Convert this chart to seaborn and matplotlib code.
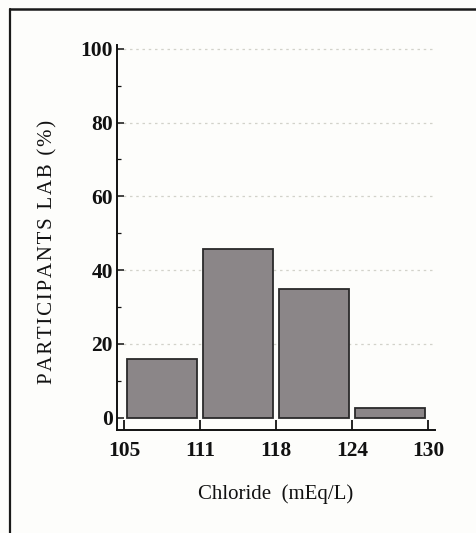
import numpy as np
import pandas as pd
import matplotlib
matplotlib.use("Agg")
import matplotlib.pyplot as plt
from matplotlib.lines import Line2D
from matplotlib.ticker import MultipleLocator
import seaborn as sns

# ---- data ----
bin_edges = ["105", "111", "118", "124", "130"]
percent_participants = [16.0, 45.7, 35.0, 2.6]
y_ticks = [0, 20, 40, 60, 80, 100]

x_label = "Chloride  (mEq/L)"
y_label = "PARTICIPANTS LAB (%)"

sns.set_theme(style="white")
plt.rcParams["font.family"] = ["Liberation Serif", "DejaVu Serif"]

W, H = 476, 533
fig = plt.figure(figsize=(W / 100, H / 100), dpi=100)
bg = "#fdfdfb"
fig.patch.set_facecolor(bg)

ax = fig.add_axes([117 / W, 1 - 430 / H, (435 - 117) / W, (430 - 45) / H])
ax.set_facecolor(bg)

n_bins = len(percent_participants)
df = pd.DataFrame({
    "pos": np.arange(n_bins) + 0.5,
    "pct": percent_participants,
})
sns.histplot(data=df, x="pos", weights="pct", binwidth=1, binrange=(0, n_bins),
             shrink=0.92, stat="count", color="#8b8688", alpha=1.0,
             edgecolor="#2a2a2a", linewidth=1.3, ax=ax, zorder=3)

ax.set_xlim(-0.092, 4.09)
ax.set_ylim(-3.3, 101)

ax.set_xticks(np.arange(len(bin_edges)))
ax.set_xticklabels(bin_edges)
ax.set_yticks(y_ticks)
ax.set_yticklabels([str(v) for v in y_ticks])
ax.yaxis.set_minor_locator(MultipleLocator(10))

for lab in ax.get_xticklabels() + ax.get_yticklabels():
    lab.set_fontfamily(["Liberation Serif", "DejaVu Serif"])
    lab.set_fontsize(15.5)
    lab.set_fontweight("bold")
    lab.set_color("#111111")

ax.tick_params(axis="x", which="major", direction="in", length=7.5, width=1.3,
               color="#111111", pad=8, bottom=True)
ax.tick_params(axis="y", which="major", direction="in", length=5, width=1.1,
               color="#111111", pad=3, left=True)
ax.tick_params(axis="y", which="minor", direction="in", length=3, width=0.9,
               color="#111111", left=True)

ax.yaxis.grid(True, which="major", linestyle=(0, (2, 3)), color="#d2d2ca", linewidth=0.9)
ax.xaxis.grid(False)
ax.set_axisbelow(True)
ax.get_ygridlines()[0].set_visible(False)

for side in ["top", "right"]:
    ax.spines[side].set_visible(False)
for side in ["left", "bottom"]:
    ax.spines[side].set_color("#111111")
    ax.spines[side].set_linewidth(1.4)

ax.set_xlabel("")
ax.set_ylabel("")
fig.text(276 / W, 1 - 494 / H, x_label, ha="center", va="center",
         fontsize=15, color="#111111", family=["Liberation Serif", "DejaVu Serif"])
# letter-spaced y label, as in the original
spaced_y_label = "\u200a".join(y_label)
fig.text(48 / W, 1 - 252 / H, spaced_y_label, ha="center", va="center", rotation=90,
         fontsize=15, color="#111111", family=["Liberation Serif", "DejaVu Serif"])

# scanned frame (left and top edges)
fig.add_artist(Line2D([10 / W, 10 / W], [0, 1 - 9 / H], transform=fig.transFigure,
                      color="#1a1a1a", linewidth=1.6))
fig.add_artist(Line2D([10 / W, 1], [1 - 9 / H, 1 - 9 / H], transform=fig.transFigure,
                      color="#1a1a1a", linewidth=1.8))

fig.savefig("out.png", dpi=100, facecolor=bg)
